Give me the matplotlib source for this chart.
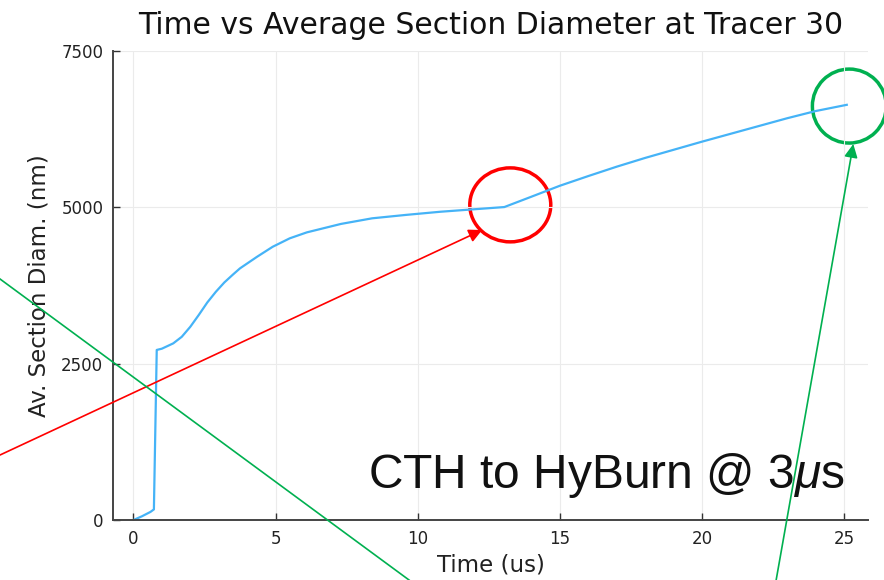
import matplotlib
matplotlib.use("Agg")
import matplotlib.pyplot as plt
from matplotlib.patches import Ellipse

# time (us) and average section diameter (nm)
time_us = [0, 0.3, 0.6, 0.72, 0.82, 1.0, 1.4, 1.7, 2.0, 2.3, 2.6, 2.9, 3.2, 3.5,
           3.75, 4.35, 4.9, 5.5, 6.1, 7.3, 8.4, 9.6, 10.8, 12, 13.05,
           14, 15, 16, 17, 18, 19, 20, 21, 22, 23, 24, 25.1]
diam_nm = [0, 60, 130, 170, 2720, 2740, 2825, 2930, 3090, 3280, 3480, 3650, 3800, 3925,
           4025, 4210, 4370, 4505, 4600, 4735, 4825, 4880, 4930, 4970, 5005,
           5170, 5345, 5500, 5650, 5790, 5920, 6050, 6175, 6300, 6425, 6540, 6640]

x_ticks = [0, 5, 10, 15, 20, 25]
y_ticks = [0, 2500, 5000, 7500]

TITLE = "Time vs Average Section Diameter at Tracer 30"
XLABEL = "Time (us)"
YLABEL = "Av. Section Diam. (nm)"
NOTE = r"CTH to HyBurn @ 3$\mu$s"

plt.rcParams['font.family'] = ['DejaVu Sans']
plt.rcParams['mathtext.fontset'] = 'custom'
plt.rcParams['mathtext.it'] = 'Liberation Sans:italic'
plt.rcParams['mathtext.rm'] = 'Liberation Sans'

fig = plt.figure(figsize=(8.84, 5.8), dpi=100)
ax = fig.add_axes([0.1278, 0.1034, 0.982 - 0.1278, 0.912 - 0.1034])

ax.plot(time_us, diam_nm, color='#45b3f7', lw=1.6)

ax.set_xlim(-0.72, 25.85)
ax.set_ylim(0, 7500)
ax.set_xticks(x_ticks)
ax.set_yticks(y_ticks)
ax.tick_params(direction='in', length=5, width=1, color='#333333',
               labelsize=12, labelcolor='#222222', pad=7)
ax.grid(True, color='#ebebeb', lw=0.8)
for side in ['top', 'right']:
    ax.spines[side].set_visible(False)
for side in ['left', 'bottom']:
    ax.spines[side].set_color('#444444')
    ax.spines[side].set_linewidth(1.4)

ax.set_title(TITLE, fontsize=21.5, color='#111111', pad=12)
ax.set_xlabel(XLABEL, fontsize=16.5, color='#222222', labelpad=4)
ax.set_ylabel(YLABEL, fontsize=16.5, color='#222222', labelpad=8)

# highlight circles
ax.add_patch(Ellipse((13.26, 5040), 2.85, 1183, fill=False, ec='#ff0000',
                     lw=2.5, clip_on=False))
ax.add_patch(Ellipse((25.19, 6620), 2.6, 1183, fill=False, ec='#00b050',
                     lw=2.5, clip_on=False))

# arrows coming from outside the plot
ax.annotate('', xy=(12.27, 4638), xycoords='data',
            xytext=(0.0, 0.2155), textcoords='figure fraction',
            arrowprops=dict(arrowstyle='-|>', color='#ff0000', lw=1.2,
                            mutation_scale=20, shrinkA=0, shrinkB=0),
            annotation_clip=False)
ax.annotate('', xy=(25.33, 6013), xycoords='data',
            xytext=(0.878, 0.0), textcoords='figure fraction',
            arrowprops=dict(arrowstyle='-|>', color='#00b050', lw=1.2,
                            mutation_scale=20, shrinkA=0, shrinkB=0),
            annotation_clip=False)
fig.add_artist(plt.Line2D([0.0, 0.4627], [0.519, 0.0], color='#00b050',
                          lw=1.2, transform=fig.transFigure))

fig.text(845 / 884, 1 - 488 / 580, NOTE, ha='right', va='baseline',
         fontsize=34.5, family='Liberation Sans', color='#111111')

fig.savefig("out.png", dpi=100)
